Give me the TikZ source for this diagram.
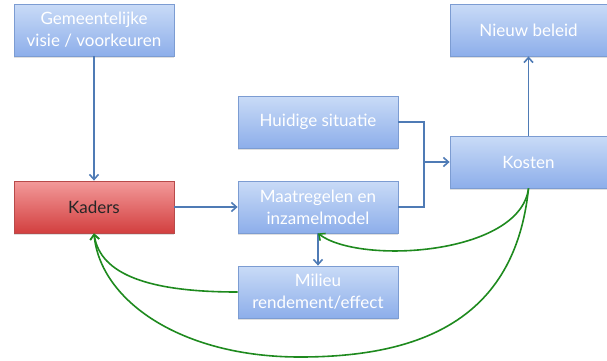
\documentclass[tikz,border=0pt]{standalone}
\usepackage{fontspec}
\setmainfont{Lato}
\usetikzlibrary{arrows.meta,shadows}
\definecolor{boxtop}{HTML}{C9DBF7}
\definecolor{boxbot}{HTML}{8DAEEA}
\definecolor{boxline}{HTML}{7C9CD2}
\definecolor{redtop}{HTML}{F39A9A}
\definecolor{redbot}{HTML}{D23F3F}
\definecolor{redline}{HTML}{B84A4A}
\definecolor{bluearrow}{HTML}{4F7BB5}
\definecolor{greenarrow}{HTML}{1E8A1E}
\tikzset{
  bluebox/.style={rectangle, draw=boxline, line width=0.8pt, top color=boxtop, bottom color=boxbot,
    minimum width=160pt, minimum height=52pt, inner sep=2pt, align=center, text=white,
    font=\fontsize{17}{22}\selectfont,
    drop shadow={opacity=0.25, shadow xshift=0pt, shadow yshift=-2pt}},
  redbox/.style={bluebox, draw=redline, top color=redtop, bottom color=redbot, text=black!85},
  bluearr/.style={draw=bluearrow, line width=1.8pt, -{Straight Barb[length=5pt,width=9pt,line width=1.6pt]}},
  bluelin/.style={draw=bluearrow, line width=1.8pt},
  greenarr/.style={draw=greenarrow, line width=1.6pt, -{Straight Barb[length=5pt,width=9pt,line width=1.5pt]}}
}
\begin{document}
\begin{tikzpicture}[x=1pt,y=-1pt]
\useasboundingbox (0,0) rectangle (607,360);
\node[bluebox] (gem) at (94,30) {Gemeentelijke\\visie / voorkeuren};
\node[redbox] (kad) at (94,207) {Kaders};
\node[bluebox] (hui) at (318,122) {Huidige situatie};
\node[bluebox] (maa) at (318,207) {Maatregelen en\\inzamelmodel};
\node[bluebox] (mil) at (318,292) {Milieu\\rendement/effect};
\node[bluebox, minimum width=157pt] (nie) at (528.5,30) {Nieuw beleid};
\node[bluebox, minimum width=157pt] (kos) at (528.5,162) {Kosten};
\coordinate (jn) at (424,162);
\coordinate (low) at (300,357);
\draw[bluearr] (gem) -- (kad);
\draw[bluearr] (kad) -- (maa);
\draw[bluelin] (hui.east) -| (jn);
\draw[bluelin] (maa.east) -| (jn);
\draw[bluearr] (jn) -- (kos);
\draw[bluearr] (kos) -- (nie);
\draw[bluearr] (maa) -- (mil);
\draw[greenarr] (kos.south) .. controls (520,255) and (360,265) .. (maa.south);
\draw[greenarr] (mil.west) .. controls (150,292) and (100,275) .. (kad.south);
\draw[greenarr] (kos.south) .. controls (515,320) and (420,357) .. (low) .. controls (180,357) and (100,300) .. (kad.south);
\end{tikzpicture}
\end{document}
